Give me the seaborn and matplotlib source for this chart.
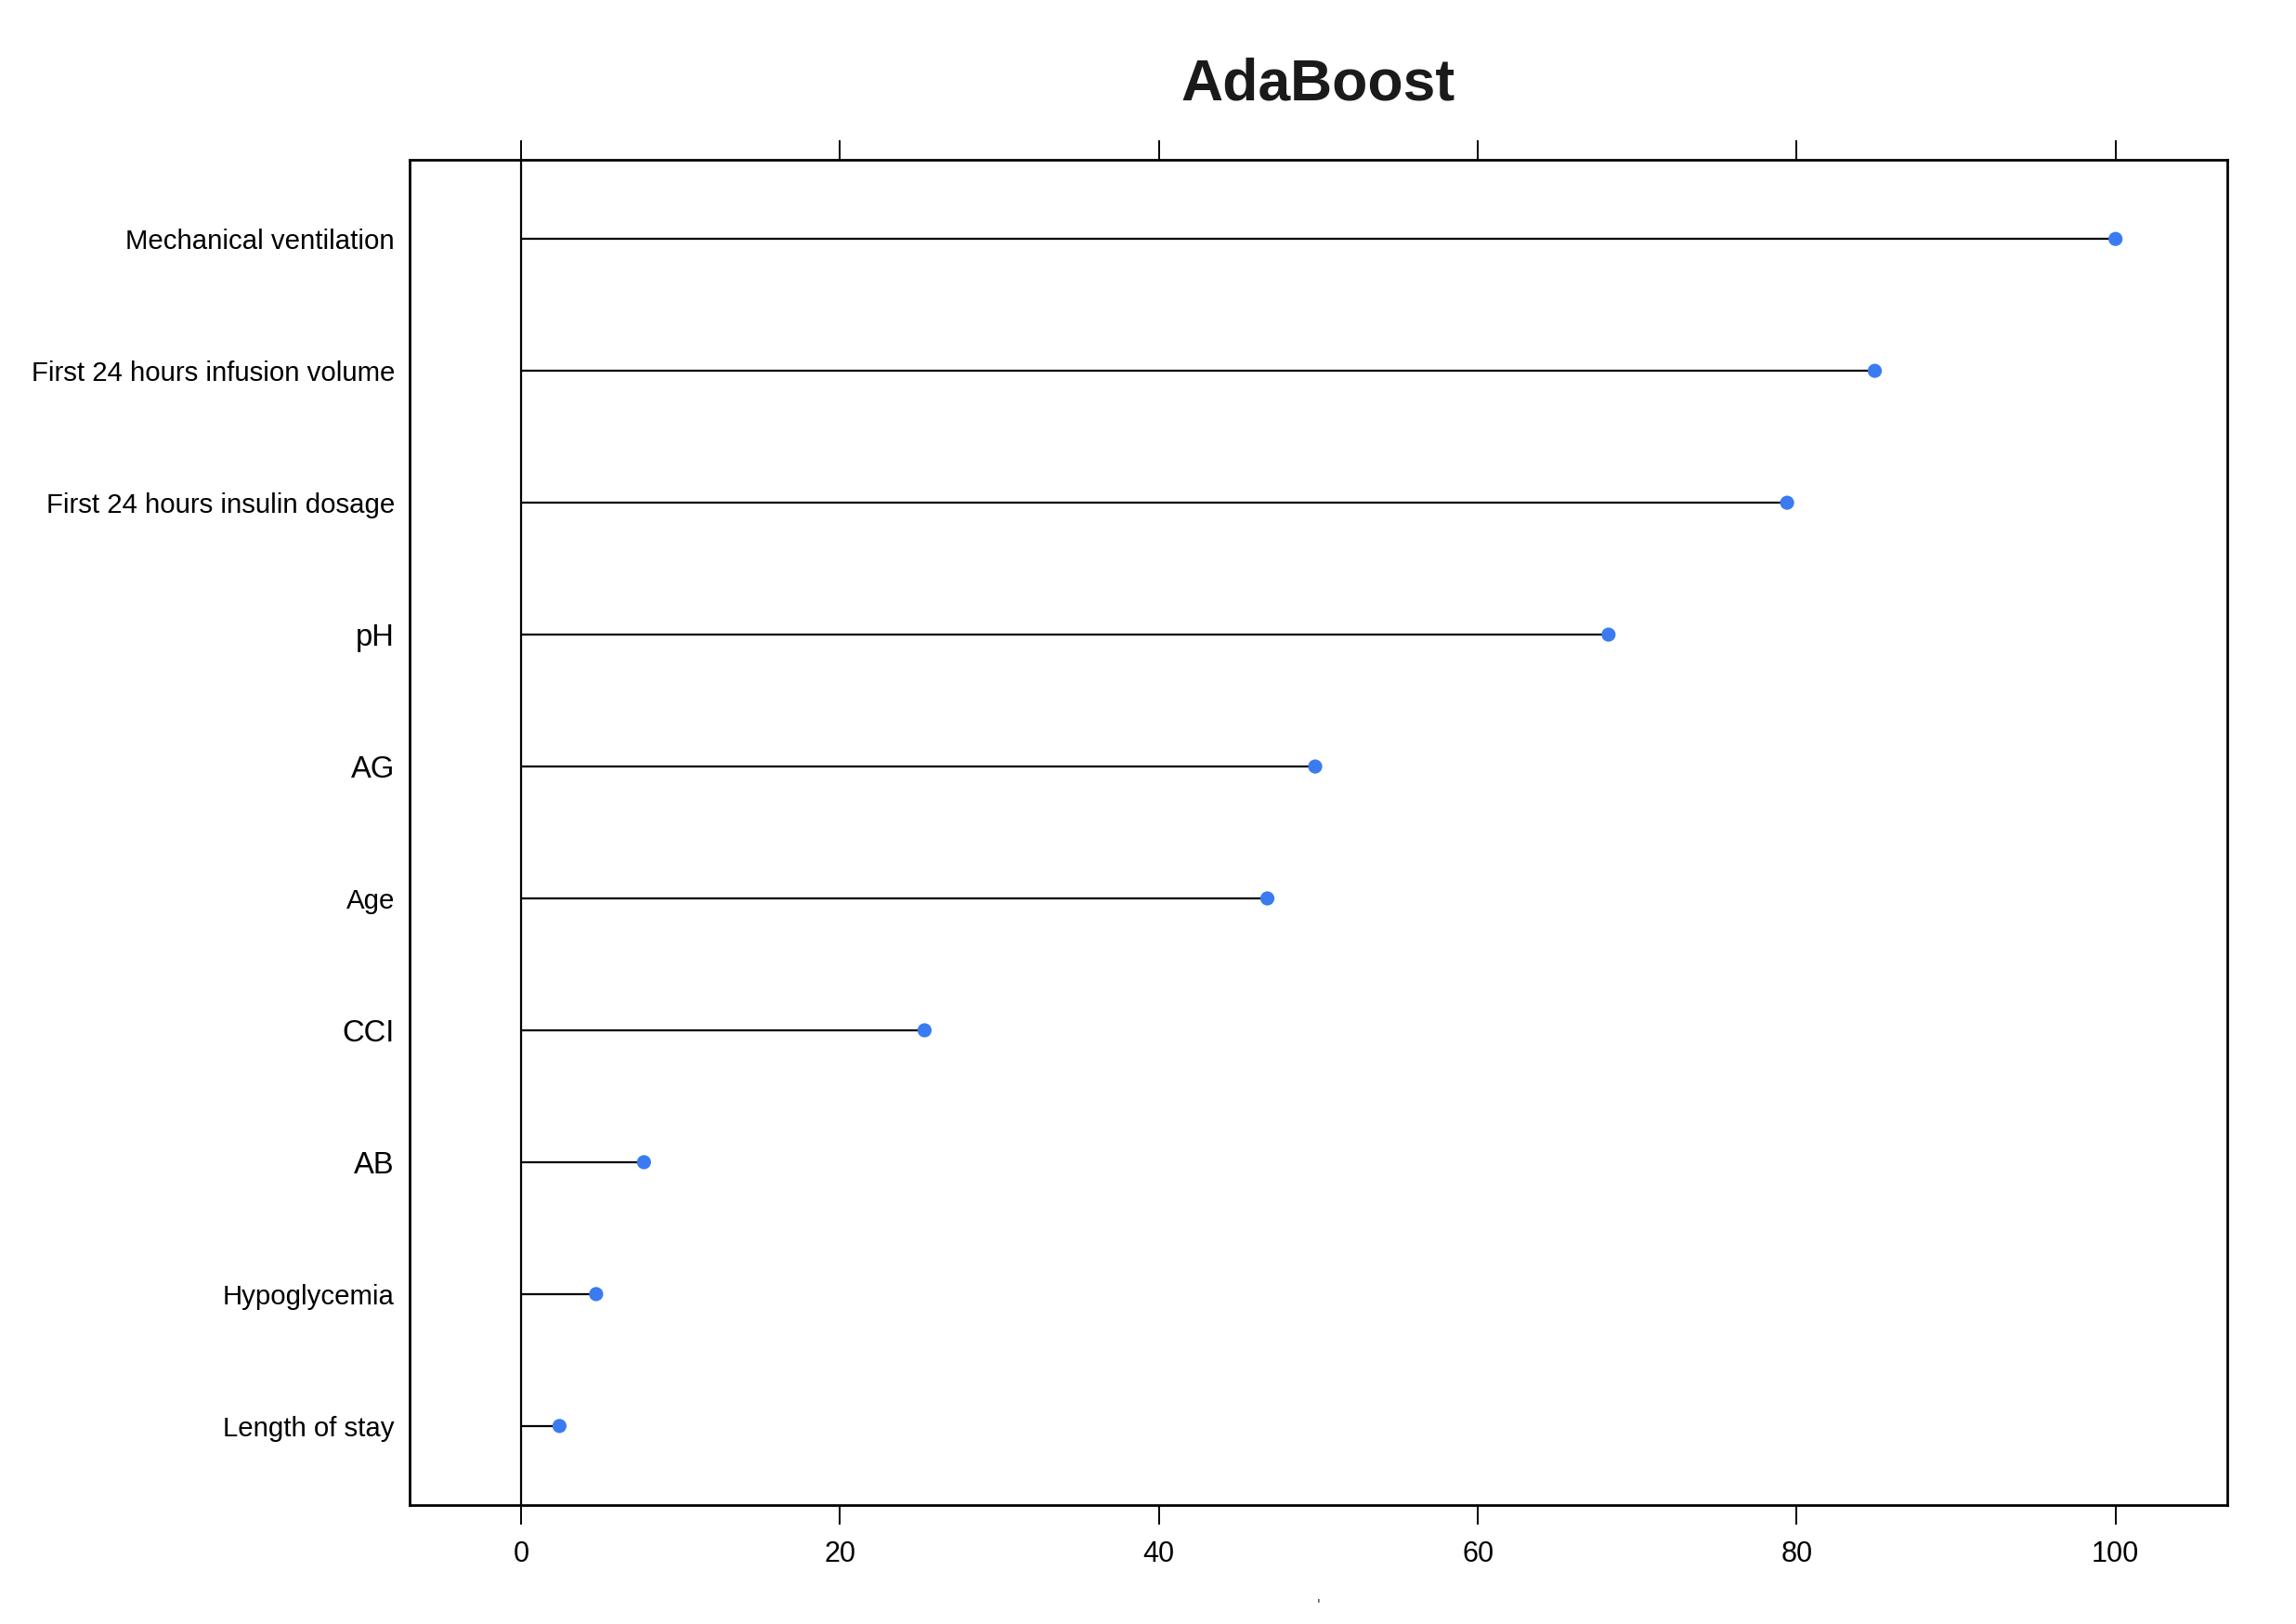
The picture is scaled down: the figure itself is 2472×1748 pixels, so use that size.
#%%
import numpy as np
import pandas as pd
import matplotlib
matplotlib.use("Agg")
import matplotlib.pyplot as plt
import seaborn as sns

#%%
# variable importance read off the AdaBoost dotplot (top to bottom)
features = ['Mechanical ventilation', 'First 24 hours infusion volume',
            'First 24 hours insulin dosage', 'pH', 'AG', 'Age', 'CCI', 'AB',
            'Hypoglycemia', 'Length of stay']
importance = [100, 84.9, 79.4, 68.2, 49.8, 46.8, 25.3, 7.7, 4.7, 2.4]
x_ticks = [0, 20, 40, 60, 80, 100]

df = pd.DataFrame({'feature': features, 'importance': importance})
# first feature on top
df['pos'] = np.arange(len(df))[::-1]

#%%
sns.set_theme(style="white")
plt.rcParams['font.family'] = ['Liberation Sans', 'DejaVu Sans']

fig = plt.figure(figsize=(12.36, 8.74), dpi=200)
ax = fig.add_axes([0.1784, 0.0732, 0.7916, 0.8284])

# stems from zero, then the dots
ax.hlines(df['pos'], 0, df['importance'], color='black', lw=0.8, zorder=2)
ax.axvline(0, color='black', lw=0.8, zorder=2)
sns.scatterplot(data=df, x='importance', y='pos', ax=ax, color='#3a7bf2',
                s=30, edgecolor='none', zorder=3, legend=False)

ax.set_xlim(-7, 107)
ax.set_ylim(-0.6, len(df) - 0.4)
ax.set_xticks(x_ticks)
ax.set_xticklabels([str(t) for t in x_ticks], fontsize=11)
ax.set_yticks(df['pos'])
ax.set_yticklabels(df['feature'], fontsize=10.6)
# the short abbreviations are printed a bit larger in the original
for lab in ax.get_yticklabels():
    if lab.get_text() in ('pH', 'AG', 'CCI', 'AB'):
        lab.set_fontsize(11.8)
ax.tick_params(axis='x', which='both', direction='out', length=7.5, width=0.7,
               top=True, bottom=True, labeltop=False, labelbottom=True,
               pad=6, colors='black')
ax.tick_params(axis='y', length=0, pad=5.8, colors='black')
for sp in ax.spines.values():
    sp.set_visible(True)
    sp.set_color('black')
    sp.set_linewidth(1.0)

ax.set_xlabel('ʹ', fontsize=7, color='#555555', labelpad=12)
ax.set_ylabel('')
ax.text(0.5, 1 + 65 / 1449, 'AdaBoost', transform=ax.transAxes,
        ha='center', va='baseline', fontsize=22.5, fontweight='bold',
        color='#1a1a1a')

plt.savefig("out.png", dpi=200)
